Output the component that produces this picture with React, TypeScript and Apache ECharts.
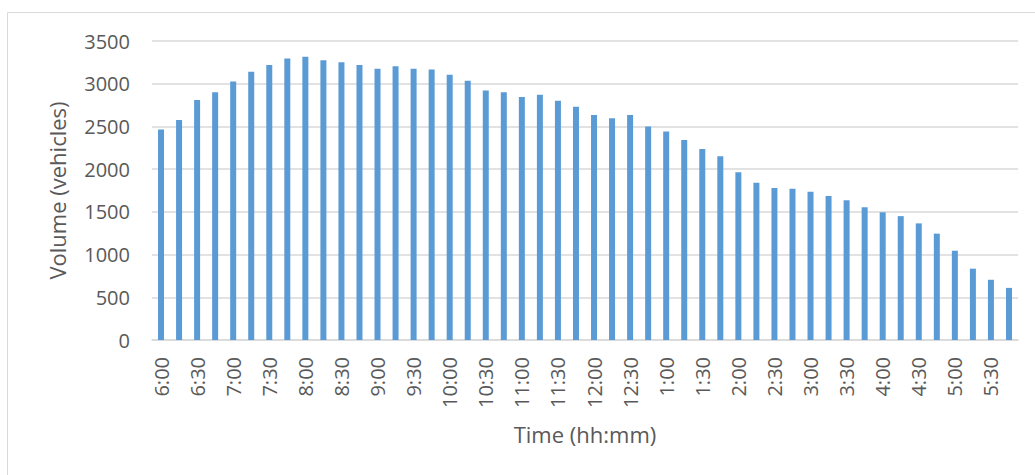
import React, { useEffect, useRef } from "react";
import * as echarts from "echarts";

const categories = [
  "6:00", "6:15", "6:30", "6:45", "7:00", "7:15", "7:30", "7:45",
  "8:00", "8:15", "8:30", "8:45", "9:00", "9:15", "9:30", "9:45",
  "10:00", "10:15", "10:30", "10:45", "11:00", "11:15", "11:30", "11:45",
  "12:00", "12:15", "12:30", "12:45", "1:00", "1:15", "1:30", "1:45",
  "2:00", "2:15", "2:30", "2:45", "3:00", "3:15", "3:30", "3:45",
  "4:00", "4:15", "4:30", "4:45", "5:00", "5:15", "5:30", "5:45",
];

const volumes = [
  2465, 2575, 2810, 2900, 3025, 3140, 3220, 3295,
  3315, 3275, 3250, 3220, 3175, 3205, 3175, 3165,
  3105, 3035, 2920, 2900, 2845, 2870, 2800, 2730,
  2635, 2595, 2635, 2500, 2440, 2340, 2235, 2150,
  1965, 1840, 1780, 1770, 1735, 1685, 1635, 1555,
  1495, 1450, 1365, 1245, 1045, 835, 705, 610,
];

const yAxisTitle = "Volume (vehicles)";
const xAxisTitle = "Time (hh:mm)";

const FONT = "'Open Sans', 'Noto Sans', sans-serif";
const TEXT = "#595959";
const GRID = "#d9d9d9";

export default function App() {
  const ref = useRef<HTMLDivElement>(null);

  useEffect(() => {
    if (!ref.current) return;
    const chart = echarts.init(ref.current, undefined, { renderer: "svg" });
    chart.setOption({
      animation: false,
      backgroundColor: "#ffffff",
      textStyle: { fontFamily: FONT },
      graphic: [
        {
          type: "rect",
          shape: { x: 7.5, y: 12.5, width: 1100, height: 500 },
          style: { fill: "none", stroke: GRID, lineWidth: 1 },
          silent: true,
          z: -1,
        },
      ],
      grid: { left: 152, right: 17, top: 41, bottom: 135, containLabel: false },
      xAxis: {
        type: "category",
        data: categories,
        name: xAxisTitle,
        nameLocation: "middle",
        nameGap: 83,
        nameTextStyle: { fontSize: 22, color: TEXT, fontFamily: FONT },
        axisLine: { show: true, lineStyle: { color: GRID, width: 1.5 } },
        axisTick: { show: false },
        axisLabel: {
          interval: 1,
          rotate: 90,
          margin: 17,
          fontSize: 20,
          color: TEXT,
          fontFamily: FONT,
        },
        splitLine: { show: false },
      },
      yAxis: {
        type: "value",
        min: 0,
        max: 3500,
        interval: 500,
        name: yAxisTitle,
        nameLocation: "middle",
        nameGap: 84,
        nameRotate: 90,
        nameTextStyle: { fontSize: 22, color: TEXT, fontFamily: FONT },
        axisLine: { show: false },
        axisTick: { show: false },
        axisLabel: {
          margin: 22,
          fontSize: 20,
          color: TEXT,
          fontFamily: FONT,
          formatter: (v: number) => String(v),
        },
        splitLine: { show: true, lineStyle: { color: GRID, width: 1.5 } },
      },
      series: [
        {
          type: "bar",
          data: volumes,
          barWidth: 6,
          itemStyle: { color: "#5b9bd5" },
        },
      ],
    });
    return () => chart.dispose();
  }, []);

  return (
    <div
      ref={ref}
      style={{ position: "fixed", left: 0, top: 0, width: 1035, height: 475 }}
    />
  );
}
